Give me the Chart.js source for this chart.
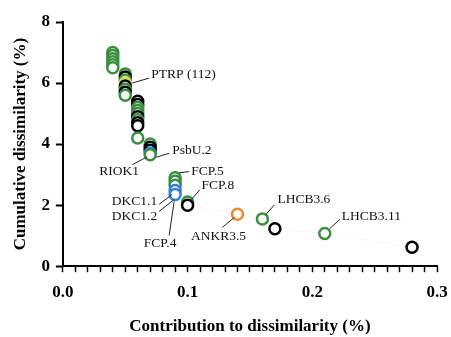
<!DOCTYPE html>
<html>
<head>
<meta charset="utf-8">
<script src="https://cdn.jsdelivr.net/npm/chart.js@4"></script>
<style>
  html, body { margin: 0; padding: 0; background: #fff; }
  #wrap { width: 451px; height: 337px; }
</style>
</head>
<body>
<div id="wrap"><canvas id="simperChart" width="451" height="337"></canvas></div>
<script>
// contribution (x) and cumulative dissimilarity (y), in drawing order (top to bottom)
const contribution = [
  0.04, 0.04, 0.04, 0.04, 0.04, 0.04,
  0.05, 0.05, 0.05, 0.05, 0.05, 0.05, 0.05, 0.05,
  0.06, 0.06, 0.06, 0.06, 0.06, 0.06, 0.06, 0.06, 0.06, 0.06,
  0.07, 0.07, 0.07, 0.07, 0.07,
  0.09, 0.09, 0.09, 0.09, 0.09,
  0.10, 0.10,
  0.14, 0.16, 0.17, 0.21, 0.28
];
const cumulative = [
  7.0, 6.9, 6.8, 6.7, 6.6, 6.5,
  6.3, 6.2, 6.1, 6.0, 5.9, 5.8, 5.7, 5.6,
  5.4, 5.3, 5.2, 5.1, 5.0, 4.9, 4.8, 4.7, 4.6, 4.2,
  4.0, 3.9, 3.8, 3.7, 3.65,
  2.9, 2.78, 2.65, 2.48, 2.35,
  2.1, 2.0,
  1.7, 1.55, 1.23, 1.07, 0.62
];
const group = [
  'g', 'g', 'g', 'g', 'g', 'g',
  'g', 'k', 'g', 'y', 'k', 'g', 'k', 'g',
  'k', 'k', 'g', 'g', 'g', 'k', 'g', 'k', 'k', 'g',
  'g', 'k', 'k', 'b', 'g',
  'g', 'g', 'g', 'b', 'b',
  'g', 'k',
  'o', 'g', 'k', 'g', 'k'
];

// labelled genes and the point each one points at
const geneNames = ['PTRP (112)', 'PsbU.2', 'RIOK1', 'FCP.5', 'FCP.8', 'DKC1.1', 'DKC1.2', 'FCP.4', 'ANKR3.5', 'LHCB3.6', 'LHCB3.11'];
const geneX = [0.05, 0.07, 0.07, 0.09, 0.10, 0.09, 0.09, 0.09, 0.14, 0.16, 0.21];
const geneY = [6.0, 3.7, 3.65, 2.9, 2.1, 2.45, 2.35, 2.35, 1.7, 1.55, 1.07];

const xTicks = [0.0, 0.1, 0.2, 0.3];
const yTicks = [0, 2, 4, 6, 8];

// leader line start/end and text position, pixel offsets from the point
const leaderOffsets = [
  [7, 0, 24, -5, 26, -9, 'left'],
  [6, 4, 19, 0, 22, -3, 'left'],
  [-3, 2, -18, 10, -31, 17, 'center'],
  [4, -5, 14, -6, 16, -6, 'left'],
  [4, -3, 12, -12, 14, -17, 'left'],
  [-3, 3, -16, 13, -18, 10, 'right'],
  [-1, 5, -16, 17, -18, 22, 'right'],
  [-1, 7, -6, 41, -15, 49, 'center'],
  [-3, 3, -15, 13, -19, 22, 'center'],
  [4, -5, 12, -14, 15, -19, 'left'],
  [5, -5, 15, -14, 17, -17, 'left']
];

const colours = { g: '#3b8d3f', k: '#000000', b: '#2f80e6', y: '#cfdc4c', o: '#f28a2e' };
const serif = '"Liberation Serif", "Times New Roman", serif';

const points = contribution.map((x, i) => ({ x: x, y: cumulative[i] }));

// draws the gene names with their leader lines
const geneLabels = {
  id: 'geneLabels',
  afterDatasetsDraw(chart) {
    const ctx = chart.ctx;
    const xs = chart.scales.x;
    const ys = chart.scales.y;
    ctx.save();
    ctx.strokeStyle = '#222';
    ctx.lineWidth = 1;
    ctx.fillStyle = '#111';
    ctx.font = '13.5px ' + serif;
    ctx.textBaseline = 'middle';
    geneNames.forEach((name, i) => {
      const px = xs.getPixelForValue(geneX[i]);
      const py = ys.getPixelForValue(geneY[i]);
      const o = leaderOffsets[i];
      ctx.beginPath();
      ctx.moveTo(px + o[0], py + o[1]);
      ctx.lineTo(px + o[2], py + o[3]);
      ctx.stroke();
      ctx.textAlign = o[6];
      ctx.fillText(name, px + o[4], py + o[5]);
    });
    ctx.restore();
  }
};

new Chart(document.getElementById('simperChart'), {
  type: 'scatter',
  data: {
    datasets: [{
      data: points,
      showLine: true,
      borderColor: 'rgba(0,0,0,0.04)',
      borderWidth: 1,
      pointRadius: 5.5,
      pointBorderWidth: 2.5,
      pointBackgroundColor: '#ffffff',
      pointBorderColor: group.map(g => colours[g])
    }]
  },
  options: {
    responsive: false,
    animation: false,
    layout: { padding: { left: 10, right: 0, top: 22, bottom: 0 } },
    plugins: { legend: { display: false }, tooltip: { enabled: false } },
    scales: {
      x: {
        type: 'linear',
        min: 0,
        max: 0.3,
        afterFit: function (scale) {
          scale.paddingRight = 14;
        },
        border: { color: '#000', width: 2 },
        grid: { drawOnChartArea: false, color: '#000', tickLength: 6, tickWidth: 1.5 },
        ticks: {
          stepSize: 0.01,
          autoSkip: false,
          maxRotation: 0,
          color: '#000',
          padding: 10,
          font: { family: serif, size: 17, weight: 'bold' },
          callback: function (v) {
            const hit = xTicks.find(t => Math.abs(t - v) < 1e-6);
            return hit === undefined ? '' : hit.toFixed(1);
          }
        },
        title: {
          display: true,
          text: 'Contribution to dissimilarity (%)',
          color: '#000',
          padding: { top: 4, bottom: 0 },
          font: { family: serif, size: 17, weight: 'bold' }
        }
      },
      y: {
        min: 0,
        max: 8,
        border: { color: '#000', width: 2 },
        grid: { drawOnChartArea: false, color: '#000', tickLength: 7, tickWidth: 2 },
        afterBuildTicks: function (axis) {
          axis.ticks = yTicks.map(v => ({ value: v }));
        },
        ticks: {
          color: '#000',
          padding: 6,
          font: { family: serif, size: 17, weight: 'bold' }
        },
        title: {
          display: true,
          text: 'Cumulative dissimilarity (%)',
          color: '#000',
          padding: { top: 0, bottom: 5 },
          font: { family: serif, size: 17, weight: 'bold' }
        }
      }
    }
  },
  plugins: [geneLabels]
});
</script>
</body>
</html>
